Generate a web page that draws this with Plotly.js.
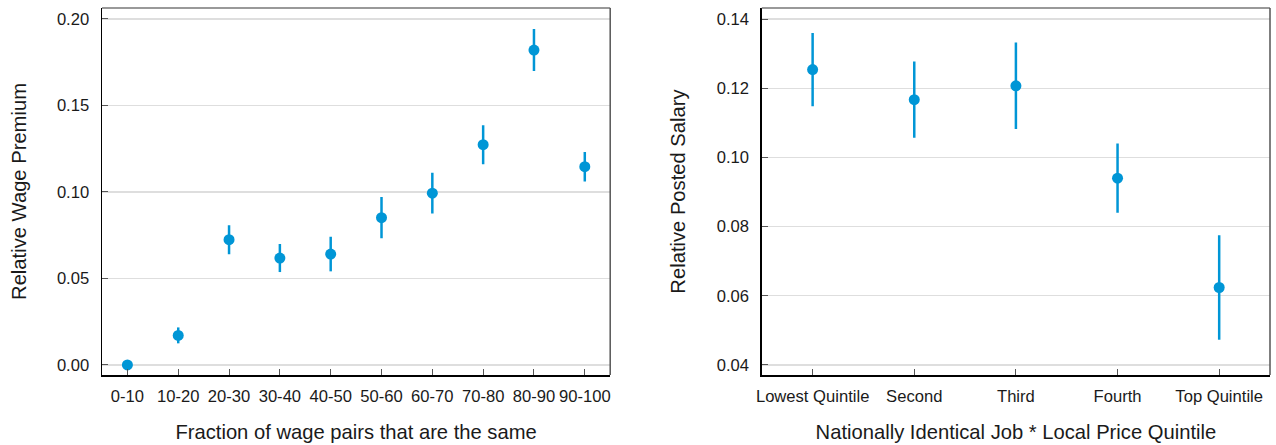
<!DOCTYPE html>
<html>
<head>
<meta charset="utf-8">
<script src="https://cdn.plot.ly/plotly-3.0.1.min.js"></script>
<style>
  html, body { margin: 0; padding: 0; background: #fff; }
  #chart { width: 1276px; height: 445px; }
</style>
</head>
<body>
<div id="chart"></div>
<script>
// Left panel: wage premium by share of identical wage pairs
const fractionBins = ['0-10', '10-20', '20-30', '30-40', '40-50', '50-60', '60-70', '70-80', '80-90', '90-100'];
const wagePremium = [0.000, 0.0171, 0.0724, 0.0618, 0.0641, 0.0851, 0.0993, 0.1273, 0.1820, 0.1146];
const wagePremiumErr = [0.000, 0.0046, 0.0084, 0.0081, 0.0100, 0.0119, 0.0118, 0.0113, 0.0121, 0.0085];

// Right panel: posted salary by local price quintile
const priceQuintiles = ['Lowest Quintile', 'Second', 'Third', 'Fourth', 'Top Quintile'];
const postedSalary = [0.1254, 0.1167, 0.1207, 0.0940, 0.0624];
const postedSalaryErr = [0.0106, 0.0110, 0.0125, 0.0100, 0.0151];

const BLUE = '#0096d6';
const FONT = 'Liberation Sans, Arial, sans-serif';
const TICK_SIZE = 16.6;
const TITLE_SIZE = 20.2;

function pointTrace(x, y, err, xa, ya) {
  return {
    type: 'scatter', mode: 'markers',
    x: x, y: y, xaxis: xa, yaxis: ya,
    marker: { color: BLUE, size: 11 },
    error_y: { type: 'data', array: err, visible: true, color: BLUE, thickness: 2.5, width: 0 },
    showlegend: false, hoverinfo: 'x+y'
  };
}

const traces = [
  pointTrace(fractionBins, wagePremium, wagePremiumErr, 'x', 'y'),
  pointTrace(priceQuintiles, postedSalary, postedSalaryErr, 'x2', 'y2')
];

const xCommon = {
  type: 'category', showgrid: false, zeroline: false,
  showline: true, linecolor: '#000', linewidth: 1.5,
  ticks: 'inside', ticklen: 6, tickwidth: 1, tickcolor: '#555',
  tickfont: { family: FONT, size: TICK_SIZE, color: '#1a1a1a' },
  ticklabelstandoff: 6,
  range: [-0.5, 9.5], automargin: false
};
const yCommon = {
  showgrid: true, gridcolor: '#dedede', gridwidth: 1.2, zeroline: false,
  showline: true, linecolor: '#000', linewidth: 1.5,
  ticks: 'inside', ticklen: 6, tickwidth: 1, tickcolor: '#555',
  tickfont: { family: FONT, size: TICK_SIZE, color: '#1a1a1a' },
  ticklabelstandoff: 8,
  automargin: false
};

function frame(xref, yref) {
  return [
    { type: 'line', xref: xref + ' domain', yref: yref + ' domain', x0: 0, x1: 1, y0: 1, y1: 1,
      line: { color: '#777', width: 1.5 } },
    { type: 'line', xref: xref + ' domain', yref: yref + ' domain', x0: 1, x1: 1, y0: 0, y1: 1,
      line: { color: '#555', width: 1.5 } }
  ];
}

const titleFont = { family: FONT, size: TITLE_SIZE, color: '#1a1a1a' };

const layout = {
  width: 1276, height: 445,
  paper_bgcolor: '#fff', plot_bgcolor: '#fff',
  margin: { l: 102, r: 6, t: 8, b: 70, pad: 0 },
  font: { family: FONT, color: '#1a1a1a' },
  xaxis: Object.assign({}, xCommon, {
    domain: [0, 0.4351],
    title: { text: 'Fraction of wage pairs that are the same', font: titleFont, standoff: 19 }
  }),
  yaxis: Object.assign({}, yCommon, {
    domain: [0, 1], range: [-0.0058, 0.2063],
    tickvals: [0, 0.05, 0.10, 0.15, 0.20], ticktext: ['0.00', '0.05', '0.10', '0.15', '0.20'],
    title: { text: 'Relative Wage Premium', font: titleFont, standoff: 25 }
  }),
  xaxis2: Object.assign({}, xCommon, {
    domain: [0.5649, 1], anchor: 'y2', range: [-0.5, 4.5],
    title: { text: 'Nationally Identical Job * Local Price Quintile', font: titleFont, standoff: 19 }
  }),
  yaxis2: Object.assign({}, yCommon, {
    domain: [0, 1], anchor: 'x2', range: [0.0371, 0.1432],
    tickvals: [0.04, 0.06, 0.08, 0.10, 0.12, 0.14], ticktext: ['0.04', '0.06', '0.08', '0.10', '0.12', '0.14'],
    title: { text: 'Relative Posted Salary', font: titleFont, standoff: 25 }
  }),
  shapes: frame('x', 'y').concat(frame('x2', 'y2'))
};

Plotly.newPlot('chart', traces, layout, { displayModeBar: false, staticPlot: true });
</script>
</body>
</html>
